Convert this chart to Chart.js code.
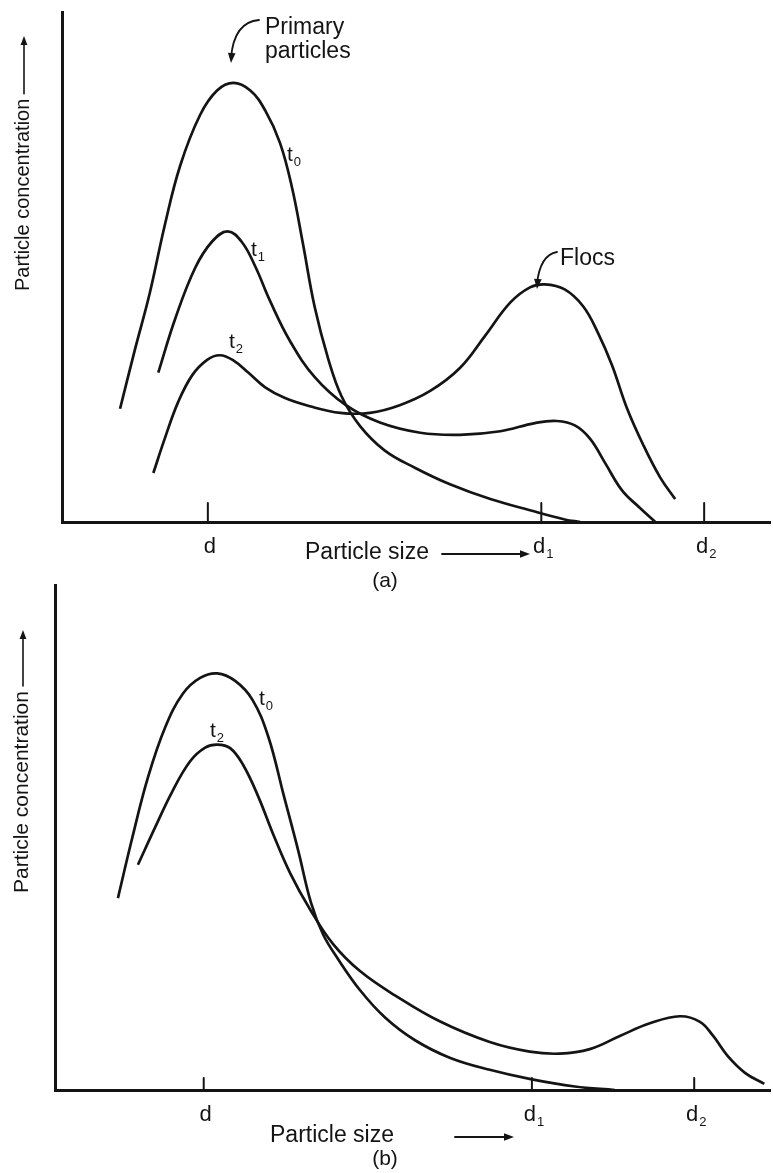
<!DOCTYPE html>
<html>
<head>
<meta charset="utf-8">
<title>Particle size distribution during flocculation</title>
<script src="https://cdn.jsdelivr.net/npm/chart.js@4.4.1/dist/chart.umd.min.js"></script>
<style>
  html, body { margin: 0; padding: 0; background: #fff; }
  body { width: 773px; height: 1173px; position: relative; overflow: hidden; }
  canvas { position: absolute; left: 0; }
  #chartA { top: 0; }
  #chartB { top: 560px; }
</style>
</head>
<body>
<canvas id="chartA" width="773" height="600"></canvas>
<canvas id="chartB" width="773" height="613"></canvas>
<script>
const INK = '#141414';
const FONT = '"Liberation Sans", "DejaVu Sans", Arial, sans-serif';

// size axis runs 0-100, concentration axis 0-100 (top of the drawn axis)
const tickNames = [['d', ''], ['d', '1'], ['d', '2']];
const sizeTicksA = [20.6, 67.7, 90.7];
const sizeTicksB = [20.8, 66.7, 89.4];

// (a) t0 - primary particles only
const sizeA_t0 = [8.2, 10.3, 12.4, 14.5, 16.7, 19.5, 21.9, 24.2, 26.6, 28.7, 30.8, 32.5, 34.0, 35.7, 37.6, 39.5, 42.1, 45.6, 49.9, 54.8, 60.5, 66.1, 71.0, 73.2];
const concA_t0 = [22.2, 33.8, 44.9, 58.1, 69.9, 79.8, 84.6, 86.1, 84.6, 80.7, 74.3, 65.5, 54.8, 42.1, 32.0, 24.6, 18.8, 14.0, 10.6, 7.4, 4.5, 2.3, 0.5, 0];
// (a) t1
const sizeA_t1 = [13.6, 16.0, 18.8, 21.2, 23.4, 25.4, 27.3, 29.4, 32.2, 35.7, 40.0, 44.9, 50.6, 56.2, 61.9, 66.8, 69.9, 72.5, 74.6, 76.7, 79.1, 81.6, 83.8];
const concA_t1 = [29.3, 39.9, 49.8, 55.0, 57.0, 54.9, 50.1, 43.3, 35.5, 28.4, 23.0, 19.5, 17.5, 17.1, 17.8, 19.4, 19.8, 18.9, 16.3, 11.6, 6.2, 2.8, 0];
// (a) t2 - flocs
const sizeA_t2 = [12.9, 14.5, 16.4, 18.4, 20.5, 22.3, 24.2, 26.3, 28.7, 31.5, 35.0, 39.3, 43.5, 47.7, 52.0, 56.2, 59.7, 63.3, 66.1, 68.2, 71.0, 73.6, 75.7, 77.7, 79.8, 82.1, 84.5, 86.6];
const concA_t2 = [9.6, 16.3, 23.5, 28.8, 31.8, 32.7, 31.7, 29.3, 26.4, 24.3, 22.7, 21.4, 21.4, 22.9, 25.7, 30.2, 36.4, 43.0, 46.0, 46.6, 45.6, 42.3, 37.1, 30.7, 22.3, 15.1, 8.7, 4.5];

// (b) t0
const sizeB_t0 = [8.8, 10.8, 13.0, 15.4, 17.9, 20.3, 22.7, 25.2, 27.6, 29.8, 32.0, 34.0, 35.8, 37.5, 39.6, 42.7, 46.2, 50.3, 55.2, 60.8, 66.7, 72.7, 78.3];
const concB_t0 = [38.0, 49.9, 61.9, 71.8, 78.5, 81.6, 82.5, 81.0, 77.3, 70.1, 58.3, 47.5, 37.1, 30.8, 25.9, 19.7, 14.3, 9.9, 6.4, 4.0, 2.1, 0.7, 0];
// (b) t2
const sizeB_t2 = [11.6, 14.0, 16.4, 18.9, 21.0, 22.7, 24.5, 26.3, 28.4, 30.5, 32.9, 35.7, 38.9, 42.7, 47.6, 53.8, 60.8, 66.4, 70.6, 74.8, 79.0, 83.2, 87.4, 90.2, 92.0, 94.1, 96.5, 99.2];
const concB_t2 = [44.6, 52.0, 59.1, 65.1, 67.8, 68.4, 67.7, 64.4, 58.2, 50.7, 42.9, 35.7, 28.9, 23.5, 18.7, 13.6, 9.5, 7.6, 7.2, 8.1, 10.7, 13.2, 14.6, 13.5, 10.8, 6.7, 3.4, 1.2];

function arrowHead(ctx, x, y, angle, size) {
    ctx.save();
    ctx.translate(x, y);
    ctx.rotate(angle);
    ctx.beginPath();
    ctx.moveTo(0, 0);
    ctx.lineTo(-size, -size * 0.38);
    ctx.lineTo(-size, size * 0.38);
    ctx.closePath();
    ctx.fill();
    ctx.restore();
}

// "t" + subscript, "d" + subscript; x is the left edge (or centre if centred)
function subText(ctx, base, sub, x, y, size, centred) {
    ctx.textAlign = 'left';
    ctx.textBaseline = 'middle';
    const small = Math.round(size * 0.6);
    ctx.font = small + 'px ' + FONT;
    const ws = sub ? ctx.measureText(sub).width + 1 : 0;
    ctx.font = size + 'px ' + FONT;
    const w = ctx.measureText(base).width;
    const left = centred ? x - (w + ws) / 2 : x;
    ctx.fillText(base, left, y);
    if (sub) {
        ctx.font = small + 'px ' + FONT;
        ctx.fillText(sub, left + w + 1, y + size * 0.33);
    }
}

// labels, titles, callouts and inward tick marks (positions given in page pixels)
const decorPlugin = {
    id: 'decor',
    afterDraw(chart, args, o) {
        const ctx = chart.ctx;
        const area = chart.chartArea;
        const xs = chart.scales.x;
        const off = o.offset;
        ctx.save();
        ctx.fillStyle = INK;
        ctx.strokeStyle = INK;
        ctx.lineCap = 'round';

        // tick marks drawn upward from the axis, with their labels below
        ctx.lineWidth = 2;
        o.ticks.forEach((v, i) => {
            const px = xs.getPixelForValue(v);
            ctx.beginPath();
            ctx.moveTo(px, area.bottom);
            ctx.lineTo(px, area.bottom - o.tickLen);
            ctx.stroke();
            subText(ctx, tickNames[i][0], tickNames[i][1], px + 2, o.tickLabelY - off, 22, true);
        });

        // y title, reading upward, with arrow
        const yt = o.yTitle;
        ctx.save();
        ctx.translate(yt.x, yt.y0 - off);
        ctx.rotate(-Math.PI / 2);
        ctx.font = yt.size + 'px ' + FONT;
        ctx.textAlign = 'left';
        ctx.textBaseline = 'middle';
        ctx.fillText('Particle concentration', 0, 0);
        const tw = ctx.measureText('Particle concentration').width;
        const len = yt.y0 - yt.tip;
        ctx.lineWidth = 1.6;
        ctx.beginPath();
        ctx.moveTo(tw + 5, 1);
        ctx.lineTo(len - 6, 1);
        ctx.stroke();
        arrowHead(ctx, len, 1, 0, 9);
        ctx.restore();

        // x title with arrow
        const xt = o.xTitle;
        ctx.font = o.fontSize + 'px ' + FONT;
        ctx.textAlign = 'left';
        ctx.textBaseline = 'middle';
        ctx.fillText('Particle size', xt.x, xt.y - off);
        ctx.lineWidth = 1.8;
        ctx.beginPath();
        ctx.moveTo(xt.a0, xt.y + 1 - off);
        ctx.lineTo(xt.a1 - 6, xt.y + 1 - off);
        ctx.stroke();
        arrowHead(ctx, xt.a1, xt.y + 1 - off, 0, 10);

        // caption
        ctx.font = '21px ' + FONT;
        ctx.textAlign = 'center';
        ctx.fillText(o.caption.text, o.caption.x, o.caption.y - off);

        // curve labels
        o.curveLabels.forEach(l => subText(ctx, l[0], l[1], l[2], l[3] - off, 21, false));

        // callouts with curved arrows
        o.callouts.forEach(c => {
            ctx.font = o.fontSize + 'px ' + FONT;
            ctx.textAlign = 'left';
            ctx.textBaseline = 'alphabetic';
            c.lines.forEach((t, i) => ctx.fillText(t, c.x, c.y[i] - off));
            ctx.lineWidth = 1.8;
            ctx.beginPath();
            ctx.moveTo(c.from[0], c.from[1] - off);
            ctx.quadraticCurveTo(c.ctrl[0], c.ctrl[1] - off, c.to[0], c.to[1] - off - 5);
            ctx.stroke();
            const ang = Math.atan2(c.to[1] - c.ctrl[1], c.to[0] - c.ctrl[0]);
            arrowHead(ctx, c.to[0], c.to[1] - off, ang, 10);
        });
        ctx.restore();
    }
};

function series(xs, ys) {
    return {
        data: xs.map((v, i) => ({ x: v, y: ys[i] })),
        borderColor: INK,
        borderWidth: 2.7,
        pointRadius: 0,
        fill: false,
        tension: 0.4
    };
}

function makeChart(id, datasets, ticks, pad, decor) {
    return new Chart(document.getElementById(id), {
        type: 'line',
        data: { datasets: datasets },
        options: {
            responsive: false,
            animation: false,
            events: [],
            layout: { padding: pad },
            plugins: { legend: { display: false }, tooltip: { enabled: false }, decor: decor },
            scales: {
                x: {
                    type: 'linear',
                    min: 0,
                    max: 100,
                    grid: { drawOnChartArea: false, drawTicks: false },
                    border: { color: INK, width: 3 },
                    afterBuildTicks: s => { s.ticks = ticks.map(v => ({ value: v })); },
                    afterFit: s => { s.height = 0; },
                    ticks: { display: false }
                },
                y: {
                    min: 0,
                    max: 100,
                    grid: { drawOnChartArea: false, drawTicks: false },
                    border: { color: INK, width: 3 },
                    ticks: { display: false },
                    afterFit: s => { s.width = 0; }
                }
            }
        },
        plugins: [decorPlugin]
    });
}

makeChart('chartA',
    [series(sizeA_t0, concA_t0), series(sizeA_t1, concA_t1), series(sizeA_t2, concA_t2)],
    sizeTicksA,
    { top: 12, bottom: 78, left: 62, right: 3 },
    {
        offset: 0,
        fontSize: 23,
        ticks: sizeTicksA,
        tickLen: 19,
        tickLabelY: 547,
        yTitle: { x: 23, y0: 291, tip: 36, size: 20 },
        xTitle: { x: 305, y: 553, a0: 442, a1: 530 },
        caption: { text: '(a)', x: 385, y: 581 },
        curveLabels: [['t', '0', 287, 155], ['t', '1', 251, 250], ['t', '2', 229, 342]],
        callouts: [
            { lines: ['Primary', 'particles'], x: 265, y: [34, 58], from: [259, 20], ctrl: [234, 22], to: [231, 63] },
            { lines: ['Flocs'], x: 560, y: [265], from: [557, 252], ctrl: [540, 255], to: [537, 289] }
        ]
    });

makeChart('chartB',
    [series(sizeB_t0, concB_t0), series(sizeB_t2, concB_t2)],
    sizeTicksB,
    { top: 25, bottom: 83, left: 55, right: 3 },
    {
        offset: 560,
        fontSize: 23,
        ticks: sizeTicksB,
        tickLen: 12,
        tickLabelY: 1115,
        yTitle: { x: 22, y0: 893, tip: 630, size: 21 },
        xTitle: { x: 270, y: 1136, a0: 455, a1: 514 },
        caption: { text: '(b)', x: 385, y: 1159 },
        curveLabels: [['t', '0', 259, 699], ['t', '2', 210, 731]],
        callouts: []
    });
</script>
</body>
</html>
